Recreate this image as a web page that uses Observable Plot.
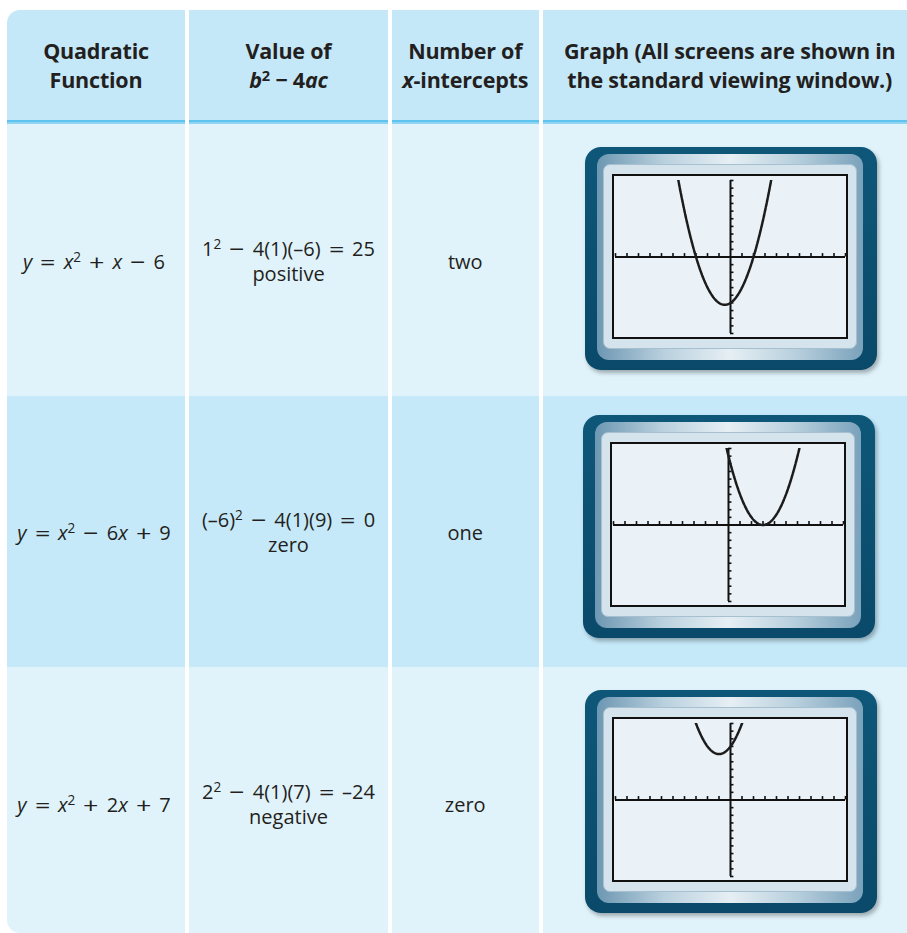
<!DOCTYPE html>
<html><head><meta charset="utf-8">
<script src="https://cdn.jsdelivr.net/npm/d3@7"></script>
<script src="https://cdn.jsdelivr.net/npm/@observablehq/plot@0.6"></script>
<style>
body{margin:0;background:#fff;}
#page{position:relative;width:907px;height:933px;overflow:hidden;background:#fff;font-family:"Open Sans","Noto Sans",sans-serif;color:#231f20;}
.cell{position:absolute;}
.hdr{position:absolute;font-family:"Open Sans","Noto Sans",sans-serif;font-weight:bold;font-size:21.5px;line-height:29px;display:flex;align-items:center;justify-content:center;text-align:center;white-space:nowrap;letter-spacing:-0.2px;}
.txt{position:absolute;display:flex;flex-direction:column;align-items:center;justify-content:center;text-align:center;white-space:nowrap;font-size:20px;line-height:25px;}
.op{display:inline-block;margin:0 10px;transform:scale(1.35,1.1);}
sup{font-size:0.68em;vertical-align:0.5em;line-height:0;}
.frame{position:absolute;width:292px;height:223px;border-radius:16px;background:linear-gradient(180deg,#0e5779,#0a4969);box-shadow:2px 3px 4px rgba(0,0,0,0.3);}
.bevel{position:absolute;left:12px;top:7px;width:266px;height:206px;border-radius:12px;background:linear-gradient(90deg,#6d97b2 0%,#b9d0de 25%,#e6eff4 50%,#b7cfdd 75%,#7aa2bb 100%);}
.panel{position:absolute;left:18px;top:17px;width:254px;height:185px;border-radius:7px;background:#d4e3ec;border:1px solid #a6c0d0;box-sizing:border-box;}
.screen{position:absolute;left:27px;top:27px;width:236px;height:165px;border:2px solid #111;box-sizing:border-box;background:#eaf1f7;overflow:hidden;}
.screen svg{display:block;}
</style>
</head>
<body>
<div id="page"></div>
<script>
// ---- data ----
const headerLines = [
  ["Quadratic", "Function"],
  ["Value of", "<i>b</i><sup>2</sup> − 4<i>ac</i>"],
  ["Number of", "<i>x</i>-intercepts"],
  ["Graph (All screens are shown in", "the standard viewing window.)"]
];
const functionLabels = [
  "<i>y</i><span class='op'>=</span><i>x</i><sup>2</sup><span class='op'>+</span><i>x</i><span class='op'>−</span>6",
  "<i>y</i><span class='op'>=</span><i>x</i><sup>2</sup><span class='op'>−</span>6<i>x</i><span class='op'>+</span>9",
  "<i>y</i><span class='op'>=</span><i>x</i><sup>2</sup><span class='op'>+</span>2<i>x</i><span class='op'>+</span>7"
];
const discriminantLabels = [
  "1<sup>2</sup><span class='op'>−</span>4(1)(–6)<span class='op'>=</span>25",
  "(–6)<sup>2</sup><span class='op'>−</span>4(1)(9)<span class='op'>=</span>0",
  "2<sup>2</sup><span class='op'>−</span>4(1)(7)<span class='op'>=</span>–24"
];
const signLabels = ["positive", "zero", "negative"];
const interceptLabels = ["two", "one", "zero"];
const aCoef = [1, 1, 1];
const bCoef = [1, -6, 2];
const cCoef = [-6, 9, 7];
const windowTicks = [-10,-9,-8,-7,-6,-5,-4,-3,-2,-1,1,2,3,4,5,6,7,8,9,10];
const windowDomain = [-10, 10];

// ---- layout ----
const page = document.getElementById("page");
const cols = [[7,185],[189,388],[392,538.5],[542.5,917]];
const rows = [[124,396],[396,667],[667,933]];
const rowFill = ["#e0f3fb", "#c6e9f9", "#e0f3fb"];
const textCenter = [261, 532, 804];
const framePos = [[585,147],[583,415],[585,690]];

function box(cls, x, y, w, h, css) {
  const d = document.createElement("div");
  d.className = cls;
  Object.assign(d.style, {left: x + "px", top: y + "px", width: w + "px", height: h + "px"}, css || {});
  page.appendChild(d);
  return d;
}

cols.forEach(([x0, x1], j) => {
  const w = x1 - x0;
  box("cell", x0, 10, w, 110, {background: "#c5e8f8", borderTopLeftRadius: j === 0 ? "13px" : "0"});
  box("cell", x0, 120, w, 2, {background: "#5ec3ee"});
  box("cell", x0, 122, w, 2, {background: "#8fd5f2"});
  const h = box("hdr", x0, 10, w, 110);
  h.innerHTML = `<div>${headerLines[j].join("<br>")}</div>`;
  rows.forEach(([y0, y1], i) => {
    box("cell", x0, y0, w, y1 - y0, {background: rowFill[i], borderBottomLeftRadius: (j === 0 && i === 2) ? "13px" : "0"});
  });
});

rows.forEach((r, i) => {
  const c = textCenter[i];
  box("txt", cols[0][0], c - 40, cols[0][1] - cols[0][0] - 4, 80).innerHTML = `<div>${functionLabels[i]}</div>`;
  box("txt", cols[1][0], c - 40, cols[1][1] - cols[1][0], 80).innerHTML =
    `<div>${discriminantLabels[i]}</div><div>${signLabels[i]}</div>`;
  box("txt", cols[2][0], c - 40, cols[2][1] - cols[2][0], 80).innerHTML = `<div>${interceptLabels[i]}</div>`;

  const [fx, fy] = framePos[i];
  const frame = box("frame", fx, fy, 292, 223);
  const bevel = document.createElement("div"); bevel.className = "bevel"; frame.appendChild(bevel);
  const panel = document.createElement("div"); panel.className = "panel"; frame.appendChild(panel);
  const scr = document.createElement("div"); scr.className = "screen"; frame.appendChild(scr);

  const f = x => aCoef[i] * x * x + bCoef[i] * x + cCoef[i];
  const pts = d3.range(-10, 10.0001, 0.05).map(x => ({x, y: f(x)}));
  const chart = Plot.plot({
    width: 232, height: 161,
    marginLeft: 1, marginRight: 1, marginTop: 4, marginBottom: 4,
    x: {domain: windowDomain, axis: null},
    y: {domain: windowDomain, axis: null},
    style: {background: "transparent"},
    marks: [
      Plot.ruleY([0], {stroke: "#111", strokeWidth: 2}),
      Plot.ruleX([0], {stroke: "#111", strokeWidth: 2}),
      Plot.ruleX(windowTicks, {x: d => d, y1: () => 0, y2: () => 0.45, stroke: "#111", strokeWidth: 1.6}),
      Plot.ruleY(windowTicks, {y: d => d, x1: () => 0, x2: () => 0.3, stroke: "#111", strokeWidth: 1.6}),
      Plot.line(pts, {x: "x", y: "y", stroke: "#1c1c1c", strokeWidth: 2.5, strokeDasharray: "4,1.3", clip: true})
    ]
  });
  scr.appendChild(chart);
});
</script>
</body></html>
